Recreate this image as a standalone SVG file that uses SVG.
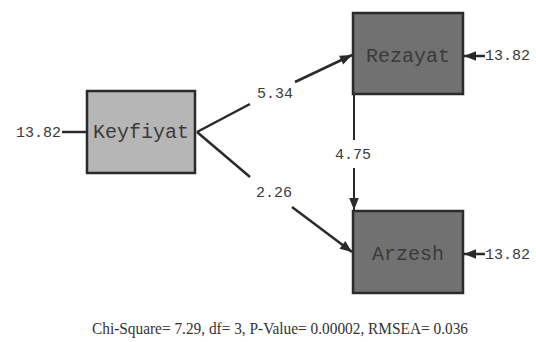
<svg xmlns="http://www.w3.org/2000/svg" width="536" height="342" viewBox="0 0 536 342">
<style>
.box{stroke:#2a2a2a;stroke-width:2.5}
.light{fill:#b6b6b6}
.dark{fill:#717171}
.lbl{font-family:"Liberation Mono","DejaVu Sans Mono",monospace;font-size:20px;fill:#3a3a3a;text-anchor:middle;dominant-baseline:central}
.num{font-family:"Liberation Mono","DejaVu Sans Mono",monospace;font-size:15px;fill:#3a3a3a;dominant-baseline:central}
.ln{stroke:#2a2a2a;stroke-width:2.5;fill:none}
.foot{font-family:"Liberation Serif","Times New Roman",serif;font-size:16px;fill:#333;text-anchor:middle}
</style>
<defs>
<marker id="ahb" viewBox="0 0 10 10" refX="10" refY="5" markerWidth="20" markerHeight="12" markerUnits="userSpaceOnUse" orient="auto">
<path d="M0,1 L10,5 L0,9 z" fill="#2a2a2a"/>
</marker>
</defs>
<rect width="536" height="342" fill="#ffffff"/>
<g id="connectors">
<line class="ln" x1="62" y1="132" x2="87" y2="132"/>
<line class="ln" x1="197" y1="132" x2="250" y2="104"/>
<line class="ln" x1="295" y1="82" x2="352" y2="55" marker-end="url(#ahb)"/>
<line class="ln" x1="197" y1="132" x2="250" y2="177"/>
<line class="ln" x1="292" y1="207" x2="352" y2="252" marker-end="url(#ahb)"/>
<line class="ln" x1="354" y1="94" x2="354" y2="140" style="stroke-width:2"/>
<line class="ln" x1="354" y1="168" x2="354" y2="210" style="stroke-width:2" marker-end="url(#ahb)"/>
<line class="ln" x1="485" y1="56" x2="464" y2="56" marker-end="url(#ahb)"/>
<line class="ln" x1="485" y1="254" x2="464" y2="254" marker-end="url(#ahb)"/>
<text class="num" x="275" y="94" text-anchor="middle">5.34</text>
<text class="num" x="274" y="193" text-anchor="middle">2.26</text>
<text class="num" x="353" y="155" text-anchor="middle">4.75</text>
<text class="num" x="16" y="133">13.82</text>
<text class="num" x="485" y="56">13.82</text>
<text class="num" x="485" y="255">13.82</text>
</g>
<g id="Keyfiyat">
<rect class="box light" x="87" y="91" width="108" height="82"/>
<text class="lbl" x="141" y="132">Keyfiyat</text>
</g>
<g id="Rezayat">
<rect class="box dark" x="353" y="13" width="110" height="81"/>
<text class="lbl" x="408" y="56">Rezayat</text>
</g>
<g id="Arzesh">
<rect class="box dark" x="353" y="211" width="110" height="82"/>
<text class="lbl" x="408" y="254">Arzesh</text>
</g>
<text class="foot" x="280" y="334" textLength="376" lengthAdjust="spacingAndGlyphs">Chi-Square= 7.29, df= 3, P-Value= 0.00002, RMSEA= 0.036</text>
</svg>
